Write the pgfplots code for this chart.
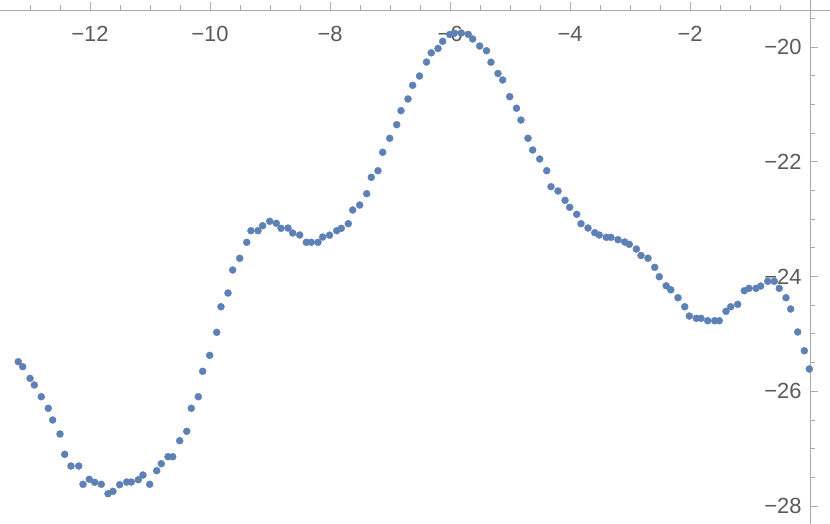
\documentclass[border=0pt]{standalone}
\usepackage{fontspec}
\setmainfont{Liberation Sans}
\usepackage{pgfplots}
\pgfplotsset{compat=1.18}
\definecolor{mblue}{RGB}{94,129,181}
\definecolor{axgray}{RGB}{170,170,170}
\definecolor{labgray}{RGB}{90,90,90}

\pgfplotstableread{
x y
-13.195 -25.485
-13.122 -25.572
-13.000 -25.775
-12.928 -25.891
-12.812 -26.095
-12.695 -26.297
-12.622 -26.501
-12.500 -26.745
-12.422 -27.099
-12.317 -27.303
-12.188 -27.303
-12.117 -27.622
-12.012 -27.535
-11.922 -27.587
-11.812 -27.622
-11.700 -27.786
-11.617 -27.744
-11.505 -27.629
-11.388 -27.582
-11.312 -27.582
-11.195 -27.542
-11.117 -27.460
-11.005 -27.622
-10.888 -27.385
-10.812 -27.263
-10.700 -27.141
-10.622 -27.141
-10.505 -26.862
-10.388 -26.698
-10.312 -26.297
-10.195 -26.095
-10.122 -25.652
-10.005 -25.374
-9.888 -24.973
-9.817 -24.527
-9.700 -24.288
-9.622 -23.887
-9.505 -23.683
-9.388 -23.404
-9.317 -23.202
-9.200 -23.202
-9.122 -23.115
-9.005 -23.038
-8.895 -23.073
-8.817 -23.160
-8.700 -23.155
-8.622 -23.242
-8.505 -23.277
-8.395 -23.404
-8.312 -23.404
-8.200 -23.404
-8.122 -23.312
-8.008 -23.280
-7.888 -23.202
-7.812 -23.160
-7.695 -23.080
-7.622 -22.841
-7.505 -22.754
-7.388 -22.557
-7.312 -22.271
-7.200 -22.156
-7.122 -21.835
-7.005 -21.591
-6.888 -21.354
-6.817 -21.110
-6.700 -20.906
-6.622 -20.668
-6.508 -20.506
-6.392 -20.262
-6.313 -20.101
-6.200 -20.026
-6.122 -19.901
-6.005 -19.782
-5.928 -19.761
-5.812 -19.756
-5.697 -19.779
-5.622 -19.861
-5.505 -19.983
-5.392 -20.065
-5.317 -20.265
-5.200 -20.462
-5.122 -20.575
-5.005 -20.866
-4.892 -21.067
-4.817 -21.273
-4.700 -21.591
-4.622 -21.795
-4.505 -21.952
-4.388 -22.156
-4.317 -22.435
-4.200 -22.510
-4.083 -22.672
-4.005 -22.794
-3.888 -22.916
-3.817 -23.080
-3.700 -23.155
-3.588 -23.237
-3.512 -23.277
-3.395 -23.317
-3.317 -23.317
-3.200 -23.359
-3.088 -23.399
-3.012 -23.439
-2.895 -23.521
-2.817 -23.634
-2.700 -23.681
-2.588 -23.840
-2.512 -24.004
-2.397 -24.162
-2.320 -24.232
-2.200 -24.370
-2.088 -24.527
-2.012 -24.689
-1.895 -24.729
-1.817 -24.729
-1.705 -24.771
-1.588 -24.771
-1.512 -24.771
-1.400 -24.607
-1.322 -24.527
-1.205 -24.485
-1.095 -24.248
-1.017 -24.206
-0.900 -24.206
-0.822 -24.166
-0.705 -24.084
-0.595 -24.084
-0.512 -24.206
-0.400 -24.370
-0.322 -24.566
-0.205 -24.967
-0.095 -25.294
-0.012 -25.612
}\datatable

\begin{document}
\begin{tikzpicture}
\begin{axis}[name=ax,
  x=60bp, y=57.375bp,
  xmin=-13.5, xmax=0, ymin=-28.3137, ymax=-19.3551,
  clip=false,
  axis x line*=top, axis y line*=right,
  axis line style={axgray, line width=0.8bp},
  x axis line style={shorten >=-20bp},
  y axis line style={shorten >=-10bp},
  tick align=outside,
  tick style={axgray, line width=0.8bp},
  major tick length=8bp, minor tick length=5bp,
  xtick={-12,-10,-8,-6,-4,-2},
  xticklabels={−12,−10,−8,−6,−4,−2},
  minor xtick={-13,-12.5,-11.5,-11,-10.5,-9.5,-9,-8.5,-7.5,-7,-6.5,-5.5,-5,-4.5,-3.5,-3,-2.5,-1.5,-1,-0.5},
  ytick={-20,-22,-24,-26,-28},
  yticklabels={−20,−22,−24,−26,−28},
  minor ytick={-19.5,-20.5,-21,-21.5,-22.5,-23,-23.5,-24.5,-25,-25.5,-26.5,-27,-27.5},
  ticklabel style={font=\fontsize{22}{22}\selectfont, text=labgray},
  xticklabel style={anchor=north, yshift=-21bp},
  yticklabel style={anchor=east, xshift=-13bp},
]
\addplot[only marks, mark=*, mark size=3.5bp, mark options={draw=mblue, fill=mblue}] table[x=x, y=y] {\datatable};
\end{axis}
\pgfresetboundingbox
\path (ax.south west) rectangle ([shift={(20bp,10bp)}]ax.north east);
\end{tikzpicture}
\end{document}
